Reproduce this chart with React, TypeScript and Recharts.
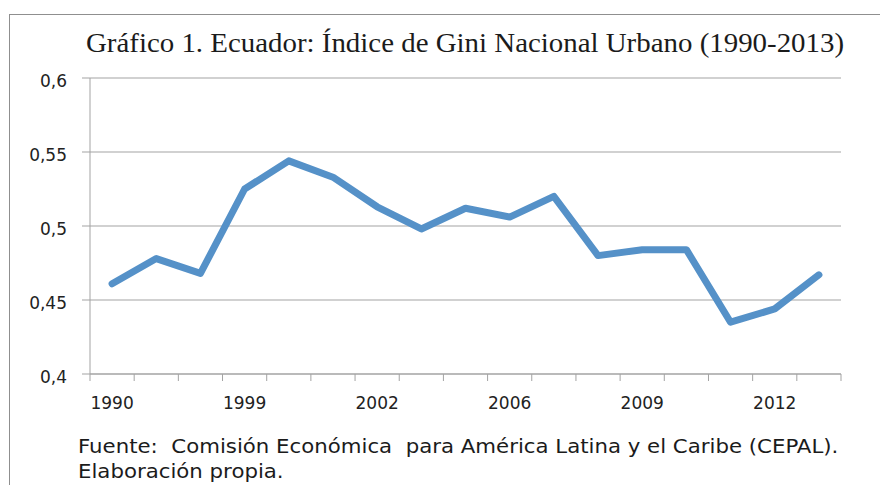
import React from 'react';
import { LineChart, Line, XAxis, YAxis, CartesianGrid } from 'recharts';

// categories (only every third one is labelled on the axis)
const years = ['1990', '1994', '1997', '1999', '2000', '2001', '2002', '2004', '2005', '2006', '2007', '2008', '2009', '2010', '2011', '2012', '2013'];
const gini = [0.461, 0.478, 0.468, 0.525, 0.544, 0.533, 0.513, 0.498, 0.512, 0.506, 0.52, 0.48, 0.484, 0.484, 0.435, 0.444, 0.467];
const yTicks = [0.4, 0.45, 0.5, 0.55, 0.6];
const labelIdx = [0, 3, 6, 9, 12, 15];

const title = 'Gráfico 1. Ecuador: Índice de Gini Nacional Urbano (1990-2013)';
const source = ['Fuente:  Comisión Económica  para América Latina y el Caribe (CEPAL).', 'Elaboración propia.'];

const gray = '#a3a3a3';
const sans = '"DejaVu Sans", sans-serif';

export default function App() {
  const data = years.map((year, i) => ({ i, year, gini: gini[i] }));
  // tick marks sit on the category boundaries, Excel style
  const boundaries = years.map((_, i) => i - 0.5).concat(years.length - 0.5);

  return (
    <div style={{ position: 'absolute', left: 0, top: 0, width: 880, height: 485, background: '#fff', overflow: 'hidden' }}>
      <div style={{ position: 'absolute', left: 9, top: 14, right: 0, bottom: 0, borderTop: '1px solid #8f8f8f', borderLeft: '1px solid #8f8f8f' }} />
      <div style={{ position: 'absolute', left: 0, top: 30, width: 930, textAlign: 'center', whiteSpace: 'nowrap', fontFamily: '"Liberation Serif", serif', fontSize: 27, lineHeight: '27px', color: '#1b1b1b', transform: 'scaleX(1.07)', transformOrigin: '465px 0' }}>
        {title}
      </div>
      <div style={{ position: 'absolute', left: 0, top: 0 }}>
        <LineChart width={880} height={485} data={data} margin={{ top: 78, right: 39, bottom: 80, left: 0 }}>
          <CartesianGrid vertical={false} stroke={gray} />
          <XAxis xAxisId={0} type="number" dataKey="i" domain={[-0.5, 16.5]} ticks={boundaries} interval={0}
            tickFormatter={() => ''} tickLine={{ stroke: gray }} tickSize={7} axisLine={{ stroke: gray }} height={1} />
          <XAxis xAxisId="z" type="number" dataKey="i" domain={[-0.5, 16.5]} ticks={labelIdx} interval={0}
            tickFormatter={(v: number) => years[v]} tickLine={false} axisLine={false}
            tickSize={6} tickMargin={16} height={30}
            tick={{ fill: '#222', fontSize: 17, fontFamily: sans }} />
          <YAxis type="number" domain={[0.4, 0.6]} ticks={yTicks} interval={0} width={90}
            tickFormatter={(v: number) => String(v).replace('.', ',')}
            tickLine={{ stroke: gray }} axisLine={{ stroke: gray }} tickSize={8} tickMargin={15}
            tick={{ fill: '#222', fontSize: 17, fontFamily: sans, dy: 3 }} />
          <Line type="linear" dataKey="gini" stroke="#5591c8" strokeWidth={7} dot={false}
            strokeLinejoin="round" strokeLinecap="round" isAnimationActive={false} />
        </LineChart>
      </div>
      <div style={{ position: 'absolute', left: 78, top: 434, whiteSpace: 'nowrap', fontFamily: sans, fontSize: 19, lineHeight: '25px', color: '#1b1b1b', transform: 'scaleX(1.12)', transformOrigin: '0 0' }}>
        {source.map((s) => <div key={s} style={{ whiteSpace: 'pre' }}>{s}</div>)}
      </div>
    </div>
  );
}
